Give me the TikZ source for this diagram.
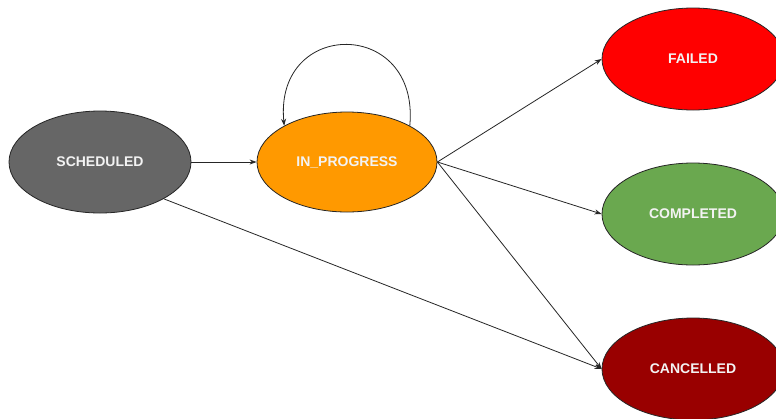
\documentclass[tikz,border=0pt]{standalone}
\usepackage{fontspec}
\setmainfont{Liberation Sans}
\usetikzlibrary{shapes.geometric,arrows.meta}
\definecolor{schedgray}{HTML}{666666}
\definecolor{progorange}{HTML}{FF9900}
\definecolor{failred}{HTML}{FF0000}
\definecolor{donegreen}{HTML}{6AA84F}
\definecolor{cancelred}{HTML}{990000}
\definecolor{labelwhite}{HTML}{F3F3F3}
\tikzset{
  state/.style={ellipse, draw=black!85, line width=0.8pt, inner sep=0pt,
    minimum width=182pt, minimum height=102pt, text=labelwhite,
    font=\fontsize{14}{16}\selectfont\bfseries},
  flow/.style={draw=black!85, line width=0.8pt,
    -{Stealth[length=7pt,width=5pt]}}
}
\begin{document}
\begin{tikzpicture}[x=1pt,y=-1pt]
\useasboundingbox (0,0) rectangle (776,418);
\clip (0,0) rectangle (776,418);
\fill[white] (0,0) rectangle (776,418);

\node[state, fill=schedgray]  (sch)  at (100,162) {SCHEDULED};
\node[state, fill=progorange, minimum width=180pt, minimum height=100pt] (prog) at (347,162) {IN\_PROGRESS};
\node[state, fill=failred]    (fail) at (693,59)  {FAILED};
\node[state, fill=donegreen]  (done) at (693,214) {COMPLETED};
\node[state, fill=cancelred]  (canc) at (693,369) {CANCELLED};

\draw[flow] (sch.east) -- (prog.west);
\draw[flow] (prog.east) -- (fail.west);
\draw[flow] (prog.east) -- (done.west);
\draw[flow] (prog.east) -- (canc.west);
\draw[flow] (sch.-30) -- (canc.west);
\draw[flow] (prog.30) .. controls (420,18) and (274,18) .. (prog.150);
\end{tikzpicture}
\end{document}
